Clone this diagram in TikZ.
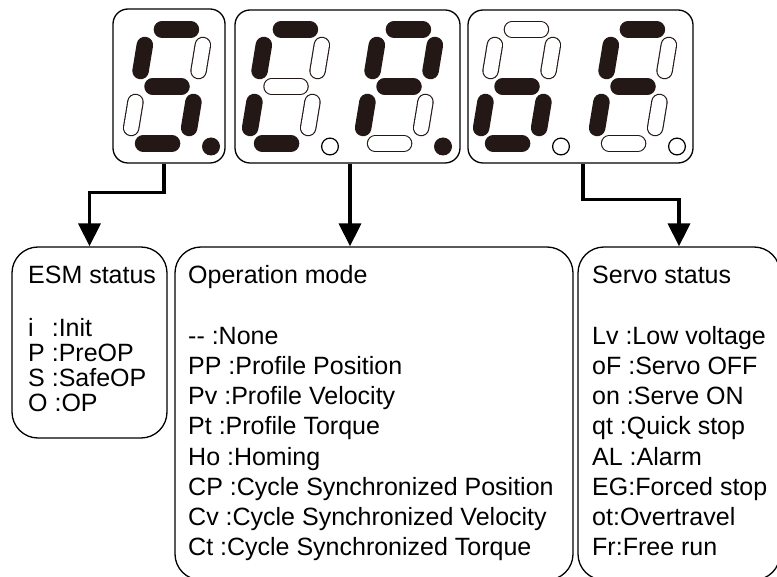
\documentclass[tikz,border=0pt]{standalone}
\usepackage{fontspec}
\setmainfont{Liberation Sans}
\usetikzlibrary{arrows.meta}
\definecolor{segink}{RGB}{35,24,21}
\tikzset{
  disp/.style={draw, line width=1.3pt, rounded corners=15pt, inner sep=0pt},
  infobox/.style={draw, line width=1.3pt, rounded corners=26pt, inner sep=0pt},
  conn/.style={line width=3.5pt, -{Triangle[width=22pt,length=23pt]}},
  txt/.style={inner sep=0pt, anchor=base west, font=\fontsize{25}{30}\selectfont},
  segline/.style={line width=16.5pt, line cap=round, draw=segink},
  seghole/.style={line width=14.2pt, line cap=round, draw=white},
}
% one segment: #1 = 1 (lit) or 0 (unlit), #2 start, #3 end
\newcommand{\oneseg}[3]{%
  \ifnum#1=1
    \draw[segline] #2 -- #3;
  \else
    \draw[segline] #2 -- #3;
    \draw[seghole] #2 -- #3;
  \fi}
% digit at (#1,#2); segments a b c d e f g
\newcommand{\sevenseg}[9]{%
  \begin{scope}[shift={(#1,#2)}, xslant=0.165]
    \oneseg{#3}{(-14.5,-57)}{(14.5,-57)}%   a
    \oneseg{#4}{(29,-41.5)}{(29,-15.5)}%    b
    \oneseg{#5}{(29,15.5)}{(29,41.5)}%      c
    \oneseg{#6}{(-14.5,57)}{(14.5,57)}%     d
    \oneseg{#7}{(-29,15.5)}{(-29,41.5)}%    e
    \oneseg{#8}{(-29,-41.5)}{(-29,-15.5)}%  f
    \oneseg{#9}{(-14.5,0)}{(14.5,0)}%       g
  \end{scope}}
% decimal point of the digit at (#1,#2)
\newcommand{\segdot}[3]{%
  \ifnum#3=1
    \fill[segink] (#1+44,#2+60) circle (9);
  \else
    \draw[line width=1.2pt] (#1+44,#2+60) circle (8.4);
  \fi}
\begin{document}
\begin{tikzpicture}[x=1pt,y=-1pt]
\useasboundingbox (0,0) rectangle (777,577);
\clip (0,0) rectangle (777,577);
\fill[white] (0,0) rectangle (777,577);

% display housings
\node[disp, minimum width=112pt, minimum height=154pt] (d1) at (169,86) {};
\node[disp, minimum width=225pt, minimum height=153pt] (d2) at (347.5,86.5) {};
\node[disp, minimum width=225pt, minimum height=153pt] (d3) at (580.5,86.5) {};

% digits: a b c d e f g, then dot
\sevenseg{167}{86.5}{1}{0}{1}{1}{0}{1}{1}\segdot{167}{86.5}{1}
\sevenseg{286}{86.5}{1}{0}{0}{1}{1}{1}{0}\segdot{286}{86.5}{0}
\sevenseg{399}{86.5}{1}{1}{0}{0}{1}{1}{1}\segdot{399}{86.5}{1}
\sevenseg{517}{86.5}{0}{0}{1}{1}{1}{0}{1}\segdot{517}{86.5}{0}
\sevenseg{633}{86.5}{1}{0}{0}{0}{1}{1}{1}\segdot{633}{86.5}{0}

% info boxes
\node[infobox, minimum width=155pt, minimum height=191pt] (esm) at (89.5,342.5) {};
\node[infobox, minimum width=398pt, minimum height=333pt] (op) at (374,413.5) {};
\node[infobox, minimum width=202pt, minimum height=333pt] (servo) at (679,413.5) {};

% connectors
\draw[conn] ([xshift=-5pt]d1.south) -- ++(0,29) -| (esm.north);
\draw[conn] ([xshift=2.5pt]d2.south) -- ([xshift=2.5pt]d2.south |- op.north);
\draw[conn] ([xshift=2.5pt]d3.south) -- ++(0,36) -| (servo.north);

% texts
\node[txt] (esmH) at (28,284) {ESM status};
\foreach \t [count=\i from 0] in {{\makebox[16.7pt][l]{i} :Init},{P :PreOP},{S :SafeOP},{O :OP}}
  \node[txt] (esmL\i) at (28,337+25*\i) {\t};

\node[txt] (opH) at (188,284) {Operation mode};
\foreach \t [count=\i from 0] in {{{-}{-} :None},{PP :Profile Position},{Pv :Profile Velocity},{Pt :Profile Torque},{Ho :Homing},{CP :Cycle Synchronized Position},{Cv :Cycle Synchronized Velocity},{Ct :Cycle Synchronized Torque}}
  \node[txt] (opL\i) at (188,345+30*\i) {\t};

\node[txt] (svH) at (592,284) {Servo status};
\foreach \t [count=\i from 0] in {{Lv :Low voltage},{oF :Servo OFF},{on :Serve ON},{qt :Quick stop},{AL :Alarm},{EG:Forced stop},{ot:Overtravel},{Fr:Free run}}
  \node[txt] (svL\i) at (592,345+30*\i) {\t};
\end{tikzpicture}
\end{document}
